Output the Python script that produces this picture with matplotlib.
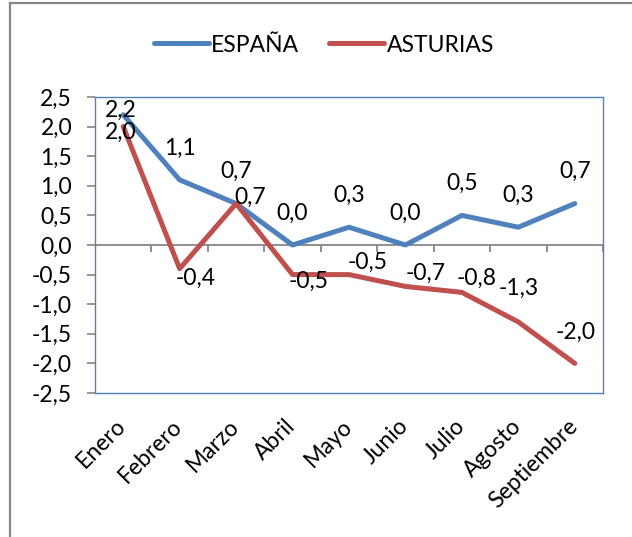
"""Inflation differential chart: ESPAÑA vs ASTURIAS, Enero-Septiembre."""

import matplotlib
matplotlib.use("Agg")
import matplotlib.pyplot as plt
import matplotlib.transforms as mtransforms
from matplotlib.lines import Line2D
from matplotlib.ticker import FuncFormatter

# Data
MONTHS = ["Enero", "Febrero", "Marzo", "Abril", "Mayo", "Junio", "Julio", "Agosto", "Septiembre"]
ESPANA = [2.2, 1.1, 0.7, 0.0, 0.3, 0.0, 0.5, 0.3, 0.7]
ASTURIAS = [2.0, -0.4, 0.7, -0.5, -0.5, -0.7, -0.8, -1.3, -2.0]
Y_TICKS = [-2.5, -2.0, -1.5, -1.0, -0.5, 0.0, 0.5, 1.0, 1.5, 2.0, 2.5]

# Label offsets in pixels (dx, dy), as placed in the original
ESP_OFFSETS = [(-2, 4)] + [(0, 32)] * 8
AST_OFFSETS = [(-3, -6), (16, -10), (14, 6), (16, -7), (19, 12),
               (20, 13), (15, 14), (0, 34), (1, 31)]

BLUE = "#4F81BD"
RED = "#C0504D"
GREY = "#868686"
FONT = 16.5

plt.rcParams["font.family"] = ["Lato", "DejaVu Sans"]

fig = plt.figure(figsize=(6.32, 5.37), dpi=100)
ax = fig.add_axes([95 / 632, 144 / 537, 508 / 632, 296 / 537])

# Outer chart border (cropped: only top and left visible)
fig.add_artist(Line2D([10 / 632, 10 / 632], [-0.1, 1 - 3 / 537],
                      transform=fig.transFigure, color=GREY, lw=1.6))
fig.add_artist(Line2D([10 / 632, 1.1], [1 - 3 / 537, 1 - 3 / 537],
                      transform=fig.transFigure, color=GREY, lw=1.6))

x = list(range(len(MONTHS)))

# Zero line with category boundary ticks
ax.axhline(0, color=GREY, lw=1.3, zorder=1)
bounds = [i - 0.5 for i in range(len(MONTHS) + 1)]
ax.vlines(bounds, -0.12, 0, color=GREY, lw=1.3, zorder=1)

line_kw = dict(lw=3.6, solid_joinstyle="round", solid_capstyle="round", zorder=3)
ax.plot(x, ESPANA, color=BLUE, label="ESPAÑA", **line_kw)
ax.plot(x, ASTURIAS, color=RED, label="ASTURIAS", **line_kw)

def fmt(v):
    return f"{v:.1f}".replace(".", ",")

for xi, v, off in zip(x, ESPANA, ESP_OFFSETS):
    ax.annotate(fmt(v), (xi, v), xytext=off, textcoords="offset pixels",
                ha="center", va="center", fontsize=FONT, zorder=4)
for xi, v, off in zip(x, ASTURIAS, AST_OFFSETS):
    ax.annotate(fmt(v), (xi, v), xytext=off, textcoords="offset pixels",
                ha="center", va="center", fontsize=FONT, zorder=4)

ax.set_xlim(-0.5, len(MONTHS) - 0.5)
ax.set_ylim(-2.5, 2.5)
ax.set_yticks(Y_TICKS)
ax.yaxis.set_major_formatter(FuncFormatter(lambda v, p: fmt(v)))
ax.tick_params(axis="y", length=5.5, width=1.2, color=GREY, pad=11, labelsize=FONT)

ax.set_xticks(x)
ax.set_xticklabels(MONTHS, rotation=45, ha="right", va="top", fontsize=FONT)
ax.tick_params(axis="x", length=0, pad=16)
shift = mtransforms.ScaledTranslation(7 / 100, 0, fig.dpi_scale_trans)
for lab in ax.get_xticklabels():
    lab.set_transform(lab.get_transform() + shift)

for s in ax.spines.values():
    s.set_color(BLUE)
    s.set_linewidth(1.0)

fig.legend(loc="center", bbox_to_anchor=(0.5 + 8 / 632, 1 - 45 / 537), ncol=2, frameon=False,
           fontsize=FONT, handlelength=2.4, handletextpad=0.1, columnspacing=1.3)

fig.savefig("out.png", dpi=100)
